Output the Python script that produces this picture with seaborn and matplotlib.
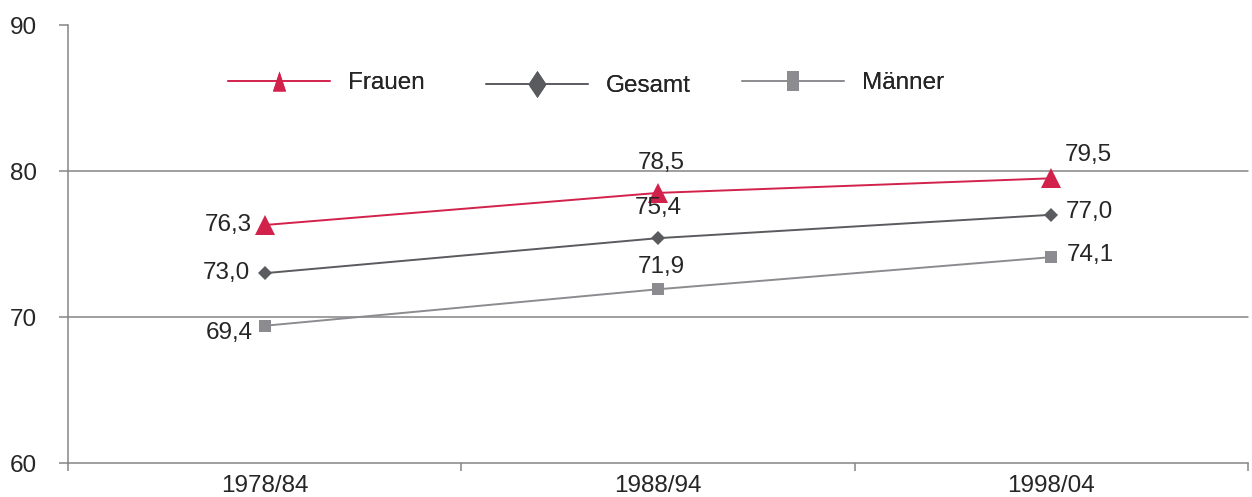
import matplotlib
matplotlib.use("Agg")
import matplotlib.pyplot as plt
from matplotlib.lines import Line2D
from matplotlib.ticker import FixedLocator
import seaborn as sns

# Lebenserwartung nach Zeitraum
periods = ["1978/84", "1988/94", "1998/04"]
frauen = [76.3, 78.5, 79.5]
gesamt = [73.0, 75.4, 77.0]
maenner = [69.4, 71.9, 74.1]
series_names = ["Frauen", "Gesamt", "Männer"]
y_ticks = [60, 70, 80, 90]

RED = "#d2224b"
DARK = "#5a5b5f"
GREY = "#8c8c90"
AXIS = "#858585"
TEXT = "#262626"

sns.set_theme(style="white")
plt.rcParams["font.family"] = ["Liberation Sans", "DejaVu Sans"]

fig = plt.figure(figsize=(12.52, 4.97), dpi=100)
ax = fig.add_axes([68 / 1252, 1 - 463 / 497, 1180 / 1252, 438 / 497])

styles = [
    (frauen, RED, "^", 14),
    (gesamt, DARK, "D", 7),
    (maenner, GREY, "s", 8.7),
]
for vals, col, mk, ms in styles:
    sns.lineplot(x=periods, y=vals, ax=ax, color=col, marker=mk, markersize=ms,
                 markeredgewidth=0, linewidth=1.4, sort=False, legend=False,
                 zorder=3)

ax.set_xlim(-0.5, 2.5)
ax.set_ylim(60, 90)
ax.set_yticks(y_ticks)
ax.set_xticks(range(len(periods)))
ax.set_xticklabels(periods)
ax.xaxis.set_minor_locator(FixedLocator([-0.5, 0.5, 1.5, 2.5]))
ax.set_xlabel("")
ax.set_ylabel("")

for y in (70, 80):
    ax.axhline(y, color=AXIS, linewidth=1.1, zorder=1, clip_on=False)

for side in ("top", "right"):
    ax.spines[side].set_visible(False)
for side in ("left", "bottom"):
    ax.spines[side].set_color(AXIS)
    ax.spines[side].set_linewidth(1.1)

ax.tick_params(axis="y", which="major", direction="out", length=6.5, width=1.1,
               color=AXIS, labelsize=17.5, labelcolor=TEXT, pad=16, left=True)
ax.tick_params(axis="x", which="major", length=0, labelsize=17.5, labelcolor=TEXT, pad=9)
ax.tick_params(axis="x", which="minor", direction="out", length=6, width=1.1,
               color=AXIS, bottom=True)

# Werte-Beschriftungen
labels = [
    (frauen, [(-13, 0, "right", "center"), (3, 30, "center", "center"), (37, 23, "center", "center")]),
    (gesamt, [(-15, 0, "right", "center"), (0, 30, "center", "center"), (14, 3, "left", "center")]),
    (maenner, [(-12, -7, "right", "center"), (3, 22, "center", "center"), (15, 2, "left", "center")]),
]
for vals, offs in labels:
    for i, (v, (dx, dy, ha, va)) in enumerate(zip(vals, offs)):
        ax.annotate(f"{v:.1f}".replace(".", ","), (i, v), xytext=(dx, dy),
                    textcoords="offset pixels", ha=ha, va=va, fontsize=17.5,
                    color=TEXT, zorder=4)

# Legende mit gestreckten Symbolen, jeder Eintrag einzeln platziert
tri = [(0, 1), (-0.65, -1), (0.65, -1)]
dia = [(0, 1), (0.67, 0), (0, -1), (-0.67, 0)]
sq = [(-0.63, -1), (0.63, -1), (0.63, 1), (-0.63, 1)]
handles = [
    Line2D([], [], color=RED, linewidth=1.2, marker=tri, markersize=14.4, markeredgewidth=0),
    Line2D([], [], color=DARK, linewidth=1.2, marker=dia, markersize=19.4, markeredgewidth=0),
    Line2D([], [], color=GREY, linewidth=1.2, marker=sq, markersize=13.7, markeredgewidth=0),
]
anchors = [(228, 83), (486, 86), (742, 83)]
for h, name, (px, py) in zip(handles, series_names, anchors):
    leg = fig.legend([h], [name], loc="center left",
                     bbox_to_anchor=(px / 1252, 1 - py / 497), frameon=False,
                     fontsize=17.5, handlelength=4.2, handletextpad=0.74,
                     borderpad=0, borderaxespad=0)
    for t in leg.get_texts():
        t.set_color(TEXT)
    fig.add_artist(leg)

fig.savefig("out.png", dpi=100, facecolor="white")
